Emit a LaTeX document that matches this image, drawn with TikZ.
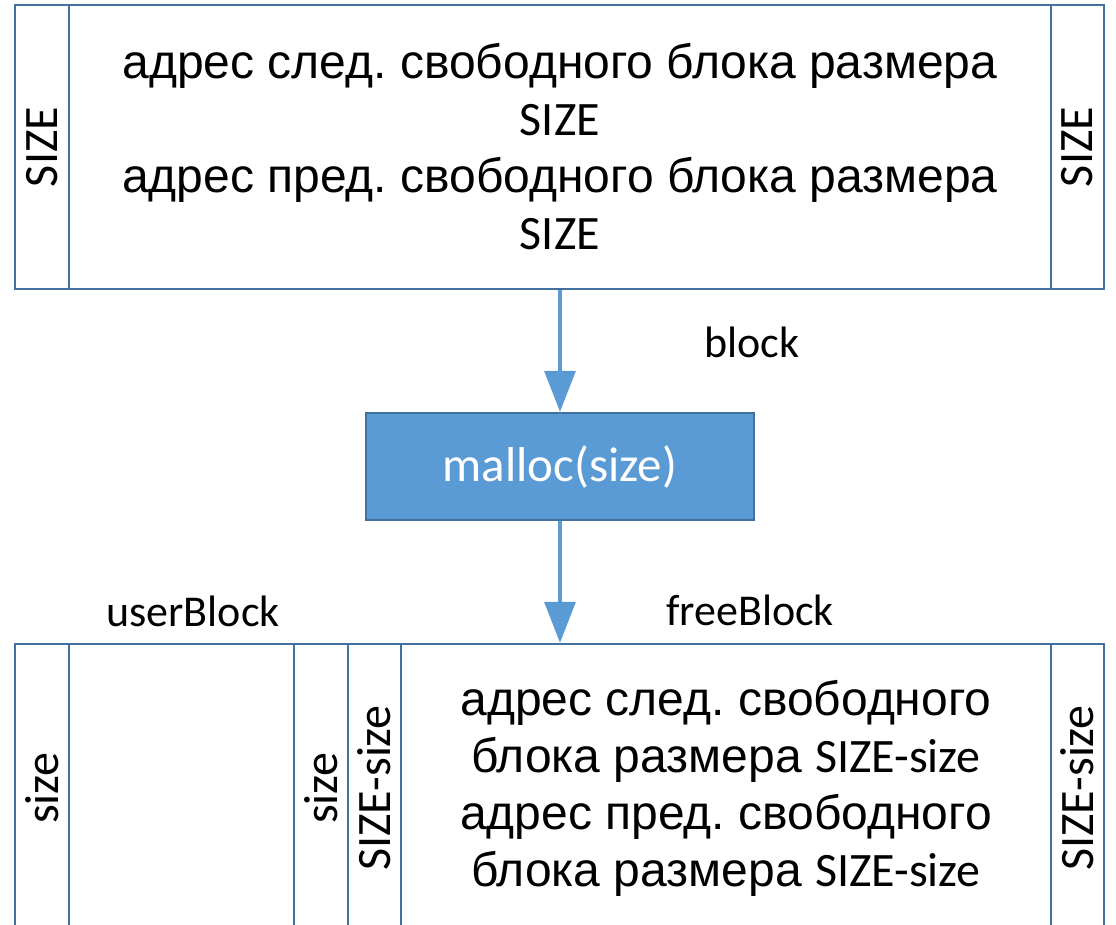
\documentclass[tikz,border=0pt]{standalone}
\usepackage{fontspec}
\setmainfont{Liberation Sans}
\newfontfamily\calibri{Carlito}
\usepackage{xcolor}
\usetikzlibrary{arrows.meta}
\frenchspacing

\definecolor{cellline}{HTML}{41719C}
\definecolor{accent}{HTML}{5B9BD5}

\begin{document}
\begin{tikzpicture}[
  x=0.5pt, y=-0.5pt,
  % ---- memory cells ------------------------------------------------------
  cell/.style={
    draw=cellline, line width=1.2pt, inner sep=0pt, align=center,
    font=\fontsize{24}{28.5}\selectfont},
  sidecell/.style={cell, rotate=90, font=\calibri\fontsize{24}{28.5}\selectfont},
  % ---- function box ------------------------------------------------------
  func/.style={
    draw=cellline, line width=1.2pt, fill=accent, text=white, inner sep=0pt,
    minimum width=194pt, minimum height=53.5pt,
    font=\calibri\fontsize{24.5}{29}\selectfont},
  ptrlabel/.style={font=\calibri\fontsize{22}{26}\selectfont},
  % ---- edges -------------------------------------------------------------
  flow/.style={draw=accent, line width=1.75pt, -{Triangle[length=20.5pt,width=15.5pt]}},
]

\useasboundingbox (0,0) rectangle (1116,925);
\clip (0,0) rectangle (1116,925);

% ---- free block of size SIZE -----------------------------------------------
\node[sidecell, minimum width=142pt, minimum height=27pt]   (tl) at (42,147)     {SIZE};
\node[cell, minimum width=491pt, minimum height=142pt]      (tm) at (560,147)
  {адрес след. свободного блока размера\\{\calibri SIZE}\\адрес пред. свободного блока размера\\{\calibri SIZE}};
\node[sidecell, minimum width=142pt, minimum height=26.5pt] (tr) at (1077.5,147) {SIZE};

\node[ptrlabel] (blocklbl) at (752,342) {block};

% ---- call ------------------------------------------------------------------
\node[func] (malloc) at (560,466.5) {malloc(size)};

% ---- split result: user block + free rest ----------------------------------
\node[sidecell, minimum width=144pt, minimum height=27pt]   (bl) at (42,788)     {size};
\node[cell, minimum width=112.5pt, minimum height=144pt]    (bu) at (181.5,788)  {};
\node[sidecell, minimum width=144pt, minimum height=27pt]   (bs) at (321,788)    {size};
\node[sidecell, minimum width=144pt, minimum height=26.5pt] (bf) at (374.5,788)  {SIZE-size};
\node[cell, minimum width=325pt, minimum height=144pt]      (bm) at (726,788)
  {адрес след. свободного\\блока размера {\calibri SIZE-size}\\адрес пред. свободного\\блока размера {\calibri SIZE-size}};
\node[sidecell, minimum width=144pt, minimum height=26.5pt] (br) at (1077.5,788) {SIZE-size};

\node[ptrlabel] (userlbl) at (193,611) {userBlock};
\node[ptrlabel] (freelbl) at (750,610) {freeBlock};

% ---- arrows ----------------------------------------------------------------
\draw[flow] (tm.south) -- (malloc.north);
\draw[flow] (malloc.south) -- (malloc.south |- bm.north);

\end{tikzpicture}
\end{document}
